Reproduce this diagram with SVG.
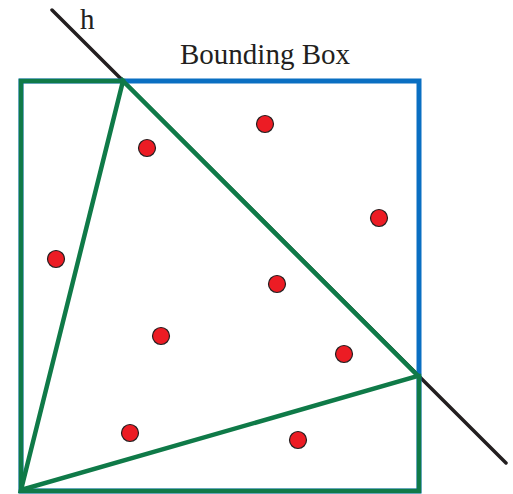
<svg xmlns="http://www.w3.org/2000/svg" width="513" height="494" viewBox="0 0 513 494">
<style>
.g{fill:none;stroke:#0f7a48;stroke-width:4.5;stroke-linejoin:miter;stroke-linecap:square}
.b{fill:none;stroke:#0a6fc2;stroke-width:5}
.h{stroke:#231f20;stroke-width:3.5;stroke-linecap:round}
.pt{fill:#ec1c24;stroke:#231f20;stroke-width:1.2}
.t{font-family:"Liberation Serif","Times New Roman",serif;fill:#231f20;font-size:29px}
</style>
<rect width="513" height="494" fill="#fff"/>
<g id="lineH">
<line class="h" x1="52" y1="10" x2="506" y2="463"/>
<text class="t" x="80" y="29">h</text>
</g>
<g id="boundingBox">
<rect class="b" x="21" y="81" width="398" height="410"/>
<text class="t" x="180" y="64">Bounding Box</text>
</g>
<g id="hull">
<polyline class="g" points="123,81 21,81 21,491 419,491 419,376"/>
<polygon class="g" points="123,81 418,376 21,490"/>
</g>
<g id="points">
<circle class="pt" cx="147" cy="148" r="8.5"/>
<circle class="pt" cx="265" cy="124" r="8.5"/>
<circle class="pt" cx="379" cy="218" r="8.5"/>
<circle class="pt" cx="56" cy="259" r="8.5"/>
<circle class="pt" cx="277" cy="284" r="8.5"/>
<circle class="pt" cx="161" cy="336" r="8.5"/>
<circle class="pt" cx="344" cy="354" r="8.5"/>
<circle class="pt" cx="130" cy="433" r="8.5"/>
<circle class="pt" cx="298" cy="440" r="8.5"/>
</g>
</svg>
